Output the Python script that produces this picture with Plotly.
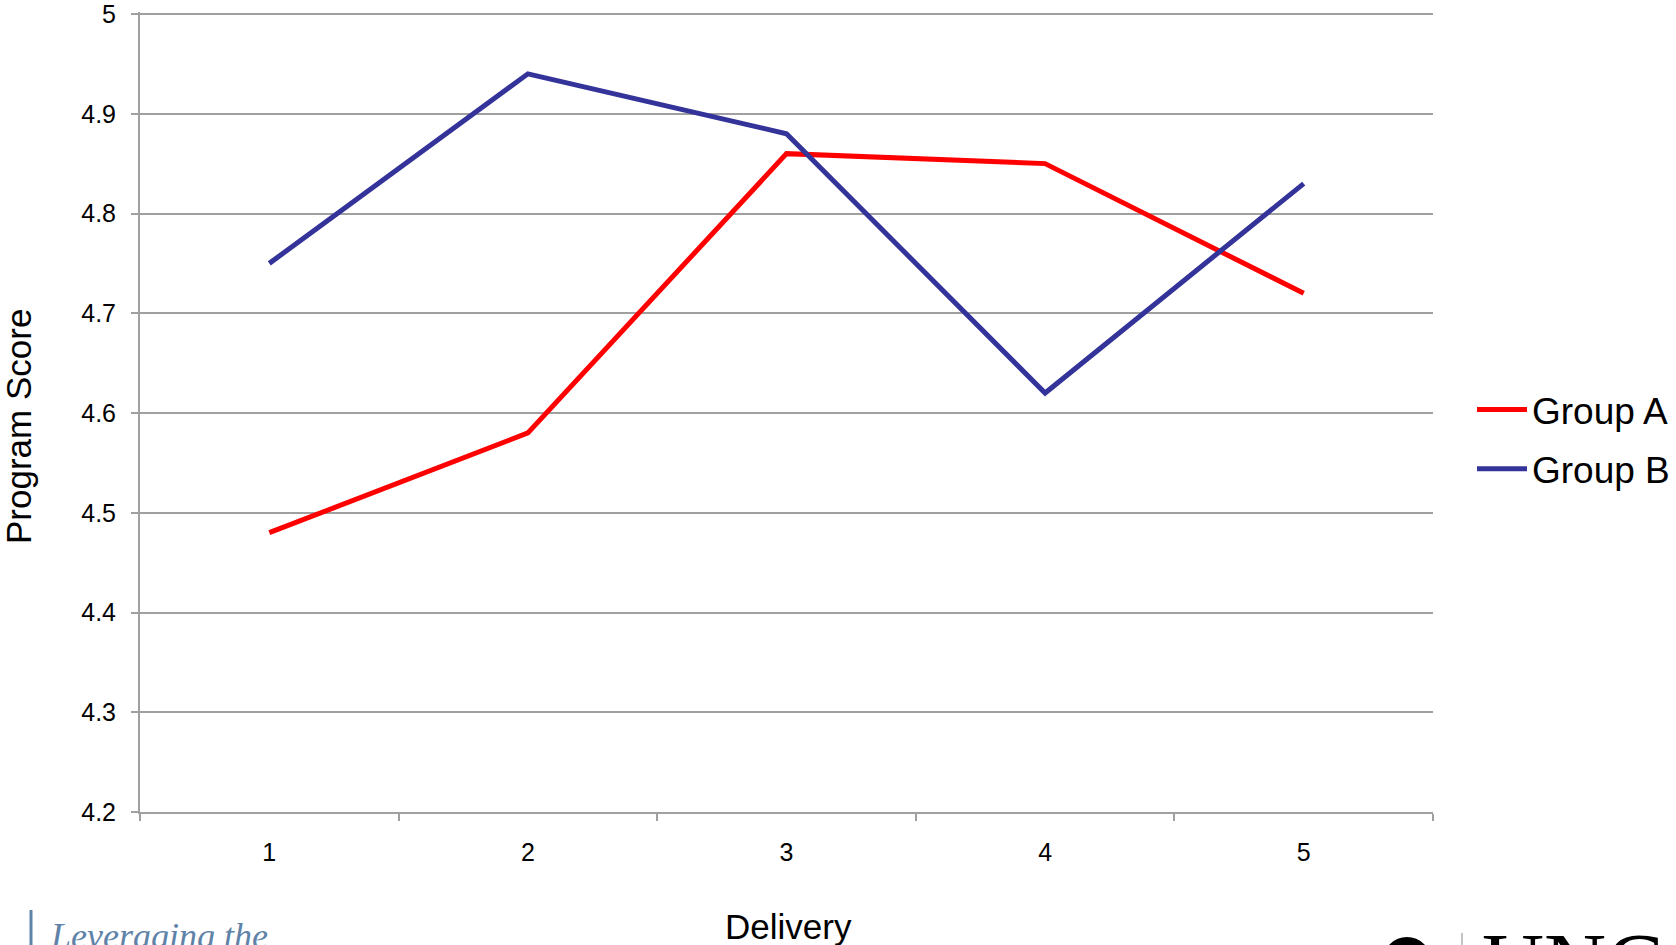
import plotly.graph_objects as go

# Delivery rounds and mean program scores per group
deliveries = ["1", "2", "3", "4", "5"]
group_a = [4.48, 4.58, 4.86, 4.85, 4.72]
group_b = [4.75, 4.94, 4.88, 4.62, 4.83]
y_ticks = [4.2, 4.3, 4.4, 4.5, 4.6, 4.7, 4.8, 4.9, 5.0]
y_tick_text = ["4.2", "4.3", "4.4", "4.5", "4.6", "4.7", "4.8", "4.9", "5"]

W, H = 1676, 945
L, R, T, B = 140, 1433, 12, 812
FONT = "Arial, Liberation Sans, sans-serif"
GRID = "#A0A0A0"


def fx(px):
    return (px - L) / (R - L)


def fy(py):
    return (B - py) / (B - T)


fig = go.Figure()
fig.add_trace(go.Scatter(
    x=deliveries, y=group_a, mode="lines", name="Group A",
    line=dict(color="#FF0000", width=5), legendgroup="a",
))
fig.add_trace(go.Scatter(
    x=deliveries, y=group_b, mode="lines", name="Group B",
    line=dict(color="#333399", width=5), legendgroup="b",
))

fig.update_layout(
    width=W, height=H,
    margin=dict(l=L, r=W - R, t=T, b=H - B, autoexpand=False),
    paper_bgcolor="white", plot_bgcolor="white",
    font=dict(family=FONT, color="black"),
    showlegend=True,
    legend=dict(
        x=fx(1472), y=fy(379), xanchor="left", yanchor="top",
        font=dict(size=37, family=FONT, color="black"),
        itemwidth=50, tracegroupgap=8,
        bgcolor="rgba(0,0,0,0)", borderwidth=0,
    ),
    xaxis=dict(
        type="category", tickson="boundaries", range=[-0.5, 4.5],
        ticks="outside", ticklen=7, tickwidth=2, tickcolor=GRID,
        showline=True, linecolor=GRID, linewidth=2,
        showgrid=False, zeroline=False,
        tickfont=dict(size=25, family=FONT, color="black"),
        ticklabelstandoff=17,
    ),
    yaxis=dict(
        range=[4.2, 5.002], tickvals=y_ticks, ticktext=y_tick_text,
        ticks="outside", ticklen=7, tickwidth=2, tickcolor=GRID,
        showline=True, linecolor=GRID, linewidth=2,
        showgrid=True, gridcolor=GRID, gridwidth=2, zeroline=False,
        tickfont=dict(size=25, family=FONT, color="black"),
        ticklabelstandoff=10, ticklabeloverflow="allow",
    ),
    annotations=[
        dict(text="Delivery", xref="paper", yref="paper",
             x=fx(788), y=fy(926), xanchor="center", yanchor="middle",
             showarrow=False, font=dict(size=35, family=FONT, color="black")),
        dict(text="Program Score", xref="paper", yref="paper",
             x=fx(18), y=fy(427), xanchor="center", yanchor="middle",
             textangle=-90, showarrow=False,
             font=dict(size=35, family=FONT, color="black")),
        dict(text="<i>Leveraging the</i>", xref="paper", yref="paper",
             x=fx(48), y=fy(914), xanchor="left", yanchor="top",
             showarrow=False,
             font=dict(size=36, family="Liberation Serif, DejaVu Serif, serif",
                       color="#5F83A8")),
        dict(text="UNC", xref="paper", yref="paper",
             x=fx(1480), y=fy(914), xanchor="left", yanchor="top",
             showarrow=False,
             font=dict(size=86, family="Liberation Serif, DejaVu Serif, serif",
                       color="black")),
    ],
    shapes=[
        dict(type="line", xref="paper", yref="paper",
             x0=fx(31), x1=fx(31), y0=fy(910), y1=fy(945),
             line=dict(color="#5F83A8", width=3)),
        dict(type="line", xref="paper", yref="paper",
             x0=fx(1462), x1=fx(1462), y0=fy(933), y1=fy(945),
             line=dict(color="#888888", width=1)),
        dict(type="circle", xref="paper", yref="paper",
             x0=fx(1383), x1=fx(1431), y0=fy(985), y1=fy(937),
             fillcolor="black", line=dict(color="black", width=0)),
    ],
)

fig.write_html("out.html")
